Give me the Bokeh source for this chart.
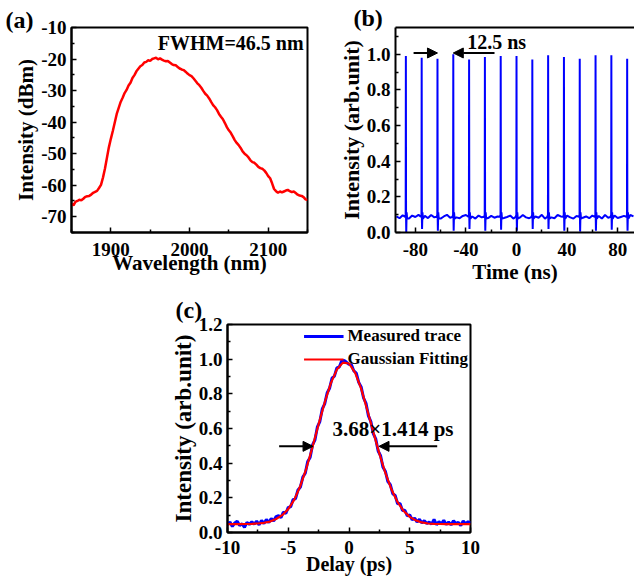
from bokeh.plotting import figure
from bokeh.layouts import column, row
from bokeh.models import (FixedTicker, PrintfTickFormatter, Label, Arrow, NormalHead,
                          LinearAxis, Range1d, Legend, LegendItem)
from bokeh.embed import file_html
from bokeh.resources import INLINE

FONT = "Liberation Serif"

# ---------------- (a) optical spectrum ----------------
intensity_dbm = [-65.9, -66.4, -65.3, -65.0, -64.6, -64.8, -64.3, -63.7, -63.5, -63.4,
                 -63.0, -62.4, -62.1, -61.8, -60.9, -59.9, -57.6, -54.8, -51.4, -48.0,
                 -45.3, -42.8, -40.1, -37.4, -35.5, -33.6, -32.3, -30.8, -29.8, -28.4,
                 -27.5, -26.0, -25.1, -23.9, -23.1, -22.3, -21.9, -21.1, -20.9, -20.4,
                 -20.6, -20.0, -19.8, -19.6, -20.1, -19.8, -20.2, -20.5, -20.7, -20.6,
                 -21.1, -21.6, -21.9, -22.0, -22.5, -23.0, -23.3, -23.5, -24.0, -24.6,
                 -25.1, -25.4, -26.1, -26.9, -27.7, -28.3, -29.1, -30.1, -31.0, -31.6,
                 -32.5, -33.6, -34.6, -35.3, -36.2, -37.4, -38.3, -39.1, -40.3, -41.6,
                 -42.6, -43.4, -44.5, -45.7, -46.6, -47.3, -48.2, -49.3, -50.0, -50.5,
                 -51.2, -52.1, -52.7, -52.9, -53.5, -54.2, -54.6, -54.8, -55.3, -56.1,
                 -57.1, -57.8, -59.4, -61.2, -61.9, -62.4, -62.0, -62.3, -62.0, -61.7,
                 -61.5, -61.9, -62.2, -62.0, -62.5, -63.0, -63.3, -63.4, -63.8, -64.5,
                 -64.7]
wavelength_nm = [1850 + 2.5 * i for i in range(len(intensity_dbm))]
a_xticks = [1900, 2000, 2100]
a_xminor = [1850, 1950, 2050, 2150]
a_yticks = [-70, -60, -50, -40, -30, -20, -10]
a_yminor = [-75, -65, -55, -45, -35, -25, -15]

# ---------------- (b) pulse train ----------------
pulse_times_ns = [-87.5, -75.0, -62.5, -50.0, -37.5, -25.0, -12.5, 0.0,
                  12.5, 25.0, 37.5, 50.0, 62.5, 75.0, 87.5]
pulse_peaks = [0.99, 0.98, 0.975, 1.0, 0.97, 0.985, 0.99, 0.99,
               0.97, 0.995, 0.985, 0.975, 0.995, 0.995, 0.975]
pulse_dips = [0.0, 0.02, 0.01, 0.01, 0.02, 0.01, 0.015, 0.01,
              0.02, 0.02, 0.01, 0.005, 0.01, 0.015, 0.01]
baseline_times_ns = [-95 + 2.5 * i for i in range(76)]
baseline_levels = [0.091, 0.080, 0.097, 0.086, 0.078, 0.095, 0.087, 0.099, 0.083, 0.093,
                   0.081, 0.098, 0.085, 0.093, 0.078, 0.090, 0.099, 0.083, 0.095, 0.085,
                   0.080, 0.093, 0.098, 0.083, 0.090, 0.078, 0.095, 0.085, 0.099, 0.081,
                   0.093, 0.083, 0.090, 0.098, 0.081, 0.087, 0.095, 0.078, 0.093, 0.083,
                   0.098, 0.085, 0.080, 0.095, 0.090, 0.083, 0.099, 0.078, 0.093, 0.085,
                   0.080, 0.098, 0.090, 0.083, 0.095, 0.085, 0.078, 0.093, 0.099, 0.083,
                   0.090, 0.080, 0.095, 0.085, 0.093, 0.078, 0.098, 0.083, 0.090, 0.095,
                   0.081, 0.087, 0.093, 0.083, 0.098, 0.090]
b_base = 0.088
b_xticks = [-80, -40, 0, 40, 80]
b_xminor = [-60, -20, 20, 60]
b_yticks = [0.0, 0.2, 0.4, 0.6, 0.8, 1.0]
b_yminor = [0.1, 0.3, 0.5, 0.7, 0.9, 1.1]
b_arrow_right = dict(x0=-81.4, x1=-62.5, y=1.007)
b_arrow_left = dict(x0=-17.4, x1=-50.0, y=1.007)

# ---------------- (c) autocorrelation ----------------
trace_meas = [0.045, 0.060, 0.035, 0.055, 0.065, 0.040, 0.050, 0.030, 0.058, 0.047, 0.062,
              0.048, 0.066, 0.044, 0.070, 0.052, 0.075, 0.058, 0.080, 0.066, 0.092,
              0.097, 0.086, 0.118, 0.110, 0.145, 0.148, 0.190, 0.196, 0.245, 0.262,
              0.320, 0.342, 0.410, 0.433, 0.505, 0.535, 0.610, 0.640, 0.713, 0.742,
              0.805, 0.832, 0.890, 0.902, 0.950, 0.955, 0.990, 0.992, 0.982, 0.970,
              0.968, 0.932, 0.920, 0.866, 0.840, 0.776, 0.745, 0.673, 0.640, 0.570,
              0.540, 0.470, 0.443, 0.376, 0.352, 0.294, 0.276, 0.224, 0.214, 0.166,
              0.168, 0.127, 0.128, 0.096, 0.102, 0.073, 0.083, 0.061, 0.076, 0.055,
              0.068, 0.052, 0.060, 0.048, 0.075, 0.045, 0.062, 0.050, 0.070, 0.046,
              0.060, 0.044, 0.068, 0.052, 0.058, 0.040, 0.066, 0.050, 0.062, 0.055]
delay_meas_ps = [round(-10 + 0.2 * i, 2) for i in range(len(trace_meas))]
trace_fit = [0.048, 0.048, 0.048, 0.049, 0.050, 0.052, 0.056, 0.063, 0.078, 0.100,
             0.135, 0.190, 0.270, 0.372, 0.495, 0.625, 0.750, 0.860, 0.940, 0.980,
             0.975, 0.922, 0.830, 0.708, 0.580, 0.455, 0.342, 0.248, 0.175, 0.124,
             0.090, 0.070, 0.058, 0.052, 0.050, 0.049, 0.048, 0.048, 0.048, 0.048,
             0.048]
delay_fit_ps = [round(-10 + 0.5 * i, 2) for i in range(len(trace_fit))]
c_xticks = [-10, -5, 0, 5, 10]
c_xminor = [-7.5, -2.5, 2.5, 7.5]
c_yticks = [0.0, 0.2, 0.4, 0.6, 0.8, 1.0, 1.2]
c_yminor = [0.1, 0.3, 0.5, 0.7, 0.9, 1.1]
c_arrow_left = dict(x0=-5.75, x1=-2.96, y=0.497)
c_arrow_right = dict(x0=7.26, x1=2.47, y=0.497)


def style(p, xt, xm, yt, ym, xfmt, yfmt, ylabel_size="21px", xlabel_size="21px"):
    p.xgrid.visible = False
    p.ygrid.visible = False
    p.background_fill_color = "white"
    p.border_fill_color = "white"
    p.outline_line_color = "black"
    p.outline_line_width = 2
    xa, ya = p.below[0], p.left[0]
    xa.ticker = FixedTicker(ticks=xt, minor_ticks=xm)
    ya.ticker = FixedTicker(ticks=yt, minor_ticks=ym)
    xa.formatter = PrintfTickFormatter(format=xfmt)
    ya.formatter = PrintfTickFormatter(format=yfmt)
    for ax in (xa, ya):
        ax.axis_line_width = 2
        ax.axis_line_color = "black"
        ax.major_tick_in = 5
        ax.major_tick_out = 0
        ax.minor_tick_in = 3
        ax.minor_tick_out = 0
        ax.major_tick_line_width = 1.5
        ax.minor_tick_line_width = 1.5
        ax.major_tick_line_color = "black"
        ax.minor_tick_line_color = "black"
        ax.major_label_text_font = FONT
        ax.major_label_text_font_style = "bold"
        ax.major_label_text_font_size = "19px"
        ax.major_label_text_color = "black"
        ax.axis_label_text_font = FONT
        ax.axis_label_text_font_style = "bold"
        ax.axis_label_text_color = "black"
        ax.major_label_standoff = 5
    xa.axis_label_text_font_size = xlabel_size
    ya.axis_label_text_font_size = ylabel_size
    ya.axis_label_standoff = 0
    xa.major_label_standoff = 10
    return xa, ya


def set_panel_title(p, text, offset, standoff, size="24px"):
    p.title.text = text
    p.title.align = "left"
    p.title.offset = offset
    p.title.standoff = standoff
    p.title.text_font = FONT
    p.title.text_font_style = "bold"
    p.title.text_font_size = size
    p.title.text_color = "black"


def add_text(p, text, x, y, size, align="left"):
    p.add_layout(Label(x=x, y=y, text=text, text_font=FONT,
                       text_font_style="bold", text_font_size=size, text_color="black",
                       text_align=align, text_baseline="middle"))


def add_arrow(p, d):
    p.add_layout(Arrow(end=NormalHead(size=10, fill_color="black", line_color="black", line_width=1),
                       x_start=d["x0"], y_start=d["y"], x_end=d["x1"], y_end=d["y"],
                       line_color="black", line_width=2))


# ---------- figure (a)
pa = figure(width=320, height=288, x_range=Range1d(1850, 2150), y_range=Range1d(-75, -10),
            output_backend="svg", toolbar_location=None, title="(a)",
            min_border_left=71, min_border_right=13, min_border_top=24, min_border_bottom=55)
pa.line(wavelength_nm, intensity_dbm, line_color="#ff0000", line_width=2.5)
a_x, a_y = style(pa, a_xticks, a_xminor, a_yticks, a_yminor, "%d", "%d")
a_x.axis_label = "Wavelength (nm)"
a_y.axis_label = "Intensity (dBm)"
a_x.axis_label_standoff = -8
set_panel_title(pa, "(a)", -66, -10)
add_text(pa, "FWHM=46.5 nm", 2145, -14.8, "20px", align="right")

# ---------- figure (b)
pts = []
for t, v in zip(baseline_times_ns, baseline_levels):
    if min(abs(t - pt) for pt in pulse_times_ns) > 1.3:
        pts.append((t, v))
for t, h, d in zip(pulse_times_ns, pulse_peaks, pulse_dips):
    pts += [(t - 0.6, b_base), (t - 0.15, b_base + 0.012), (t, h), (t + 0.15, b_base),
            (t + 0.3, d), (t + 0.6, b_base + 0.025), (t + 1.0, b_base - 0.01)]
pts.sort()
trace_t = [q[0] for q in pts]
trace_v = [q[1] for q in pts]

pb = figure(width=314, height=288, x_range=Range1d(-95.7, 93.3), y_range=Range1d(0, 1.15),
            output_backend="svg", toolbar_location=None, title="(b)",
            min_border_left=75, min_border_right=0, min_border_top=27, min_border_bottom=56)
pb.line(trace_t, trace_v, line_color="#0000ff", line_width=2)
b_x, b_y = style(pb, b_xticks, b_xminor, b_yticks, b_yminor, "%d", "%.1f", ylabel_size="22px")
b_x.axis_label = "Time (ns)"
b_y.axis_label = "Intensity (arb.unit)"
b_x.axis_label_standoff = 1
pb.outline_line_color = None
top_ax = LinearAxis(ticker=FixedTicker(ticks=[]), major_label_text_font_size="0px",
                    axis_line_width=2, axis_line_color="black",
                    major_tick_line_color=None, minor_tick_line_color=None)
pb.add_layout(top_ax, "above")
set_panel_title(pb, "(b)", -42, -7)
add_arrow(pb, b_arrow_right)
add_arrow(pb, b_arrow_left)
add_text(pb, "12.5 ns", -39, 1.066, "20px")

# ---------- figure (c)
pc = figure(width=480, height=293, x_range=Range1d(-10, 10), y_range=Range1d(0, 1.2),
            output_backend="svg", toolbar_location=None, title="(c)",
            min_border_left=227, min_border_right=10, min_border_top=36, min_border_bottom=49)
r_meas = pc.line(delay_meas_ps, trace_meas, line_color="#0000ff", line_width=3)
r_fit = pc.line(delay_fit_ps, trace_fit, line_color="#ff0000", line_width=2.2)
c_x, c_y = style(pc, c_xticks, c_xminor, c_yticks, c_yminor, "%d", "%.1f",
                 ylabel_size="23px", xlabel_size="20px")
c_x.major_label_standoff = 8
c_x.axis_label = "Delay (ps)"
c_x.axis_label_standoff = -4
c_y.axis_label = "Intensity (arb.unit)"
set_panel_title(pc, "(c)", -52, 4)
legend = Legend(items=[LegendItem(label="Measured trace", renderers=[r_meas]),
                       LegendItem(label="Gaussian Fitting", renderers=[r_fit])],
                location="top_right", padding=0, margin=2, spacing=3,
                glyph_width=40, glyph_height=20, label_height=20, label_standoff=4,
                border_line_color=None, background_fill_alpha=0,
                label_text_font=FONT, label_text_font_style="bold",
                label_text_font_size="17px", label_text_color="black")
pc.add_layout(legend)
add_arrow(pc, c_arrow_left)
add_arrow(pc, c_arrow_right)
add_text(pc, "3.68×1.414 ps", -1.36, 0.596, "21px")

layout = column(row(pa, pb), pc)
open("out.html", "w").write(file_html(layout, INLINE))
